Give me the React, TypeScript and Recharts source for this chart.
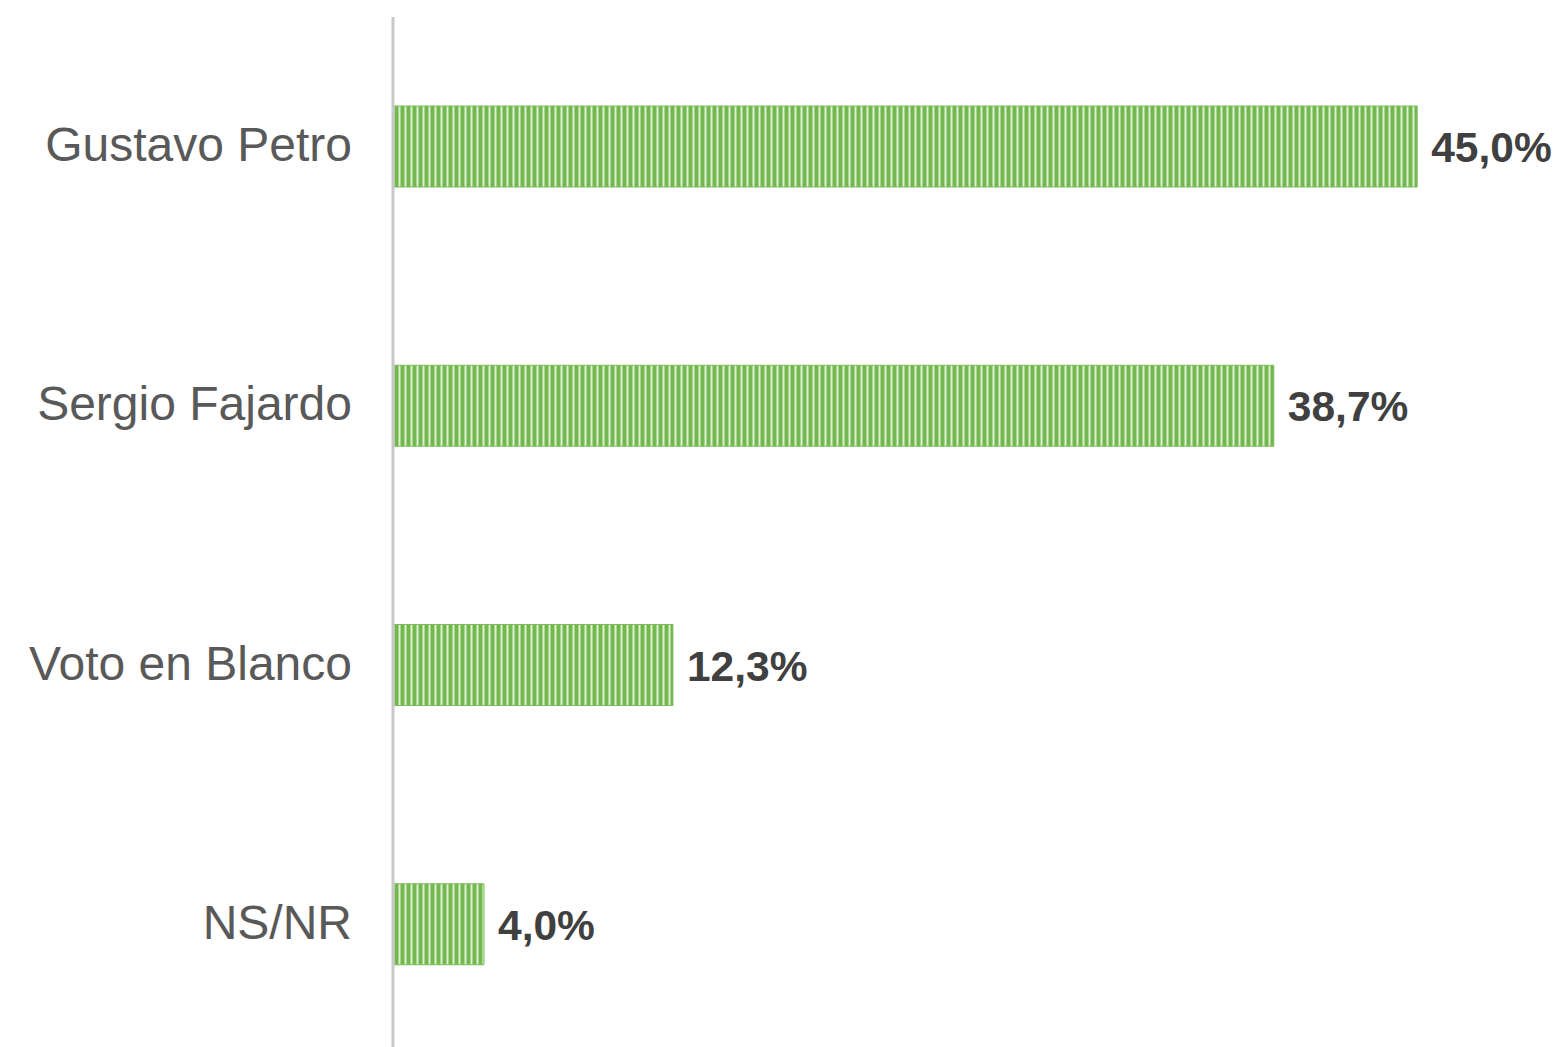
import React from "react";
import { BarChart, Bar, XAxis, YAxis, LabelList } from "recharts";

const categories = ["Gustavo Petro", "Sergio Fajardo", "Voto en Blanco", "NS/NR"];
const values = [45.0, 38.7, 12.3, 4.0];
const valueLabels = ["45,0%", "38,7%", "12,3%", "4,0%"];

const data = categories.map((name, i) => ({ name, value: values[i], label: valueLabels[i] }));

const CatTick = (props: any) => {
  const { x, y, payload } = props;
  return (
    <text
      x={x + 2}
      y={y - 2}
      textAnchor="end"
      dominantBaseline="central"
      fontFamily="'Liberation Sans', Arial, sans-serif"
      fontSize={48}
      fill="#595959"
    >
      {payload.value}
    </text>
  );
};

const ValueLabel = (props: any) => {
  const { x, y, width, height, value } = props;
  return (
    <text
      x={x + width + 14}
      y={y + height / 2 + 1}
      dominantBaseline="central"
      fontFamily="'Liberation Sans', Arial, sans-serif"
      fontWeight="bold"
      fontSize={42.5}
      fill="#404040"
    >
      {value}
    </text>
  );
};

export default function App() {
  return (
    <div style={{ position: "absolute", left: 0, top: 0, width: 1563, height: 1047, overflow: "hidden", background: "#fff" }}>
      <BarChart
        width={1563}
        height={1090}
        data={data}
        layout="vertical"
        margin={{ top: 17, right: 32, bottom: 36, left: 0 }}
        barCategoryGap={89}
      >
        <defs>
          <pattern id="stripes" width={6} height={10} patternUnits="userSpaceOnUse">
            <rect x={0} y={0} width={6} height={10} fill="#72b84f" />
            <rect x={2} y={0} width={1} height={10} fill="#a9d492" />
            <rect x={3} y={0} width={1} height={10} fill="#dcf0d0" />
            <rect x={4} y={0} width={1} height={10} fill="#a9d492" />
          </pattern>
        </defs>
        <XAxis type="number" domain={[0, 50]} hide />
        <YAxis
          type="category"
          dataKey="name"
          width={393}
          axisLine={{ stroke: "#c8c8c8", strokeWidth: 3 }}
          tickLine={false}
          tick={<CatTick />}
          tickMargin={37}
        />
        <Bar dataKey="value" fill="url(#stripes)" stroke="#7cbc5c" strokeWidth={1} isAnimationActive={false}>
          <LabelList dataKey="label" content={<ValueLabel />} />
        </Bar>
      </BarChart>
    </div>
  );
}
